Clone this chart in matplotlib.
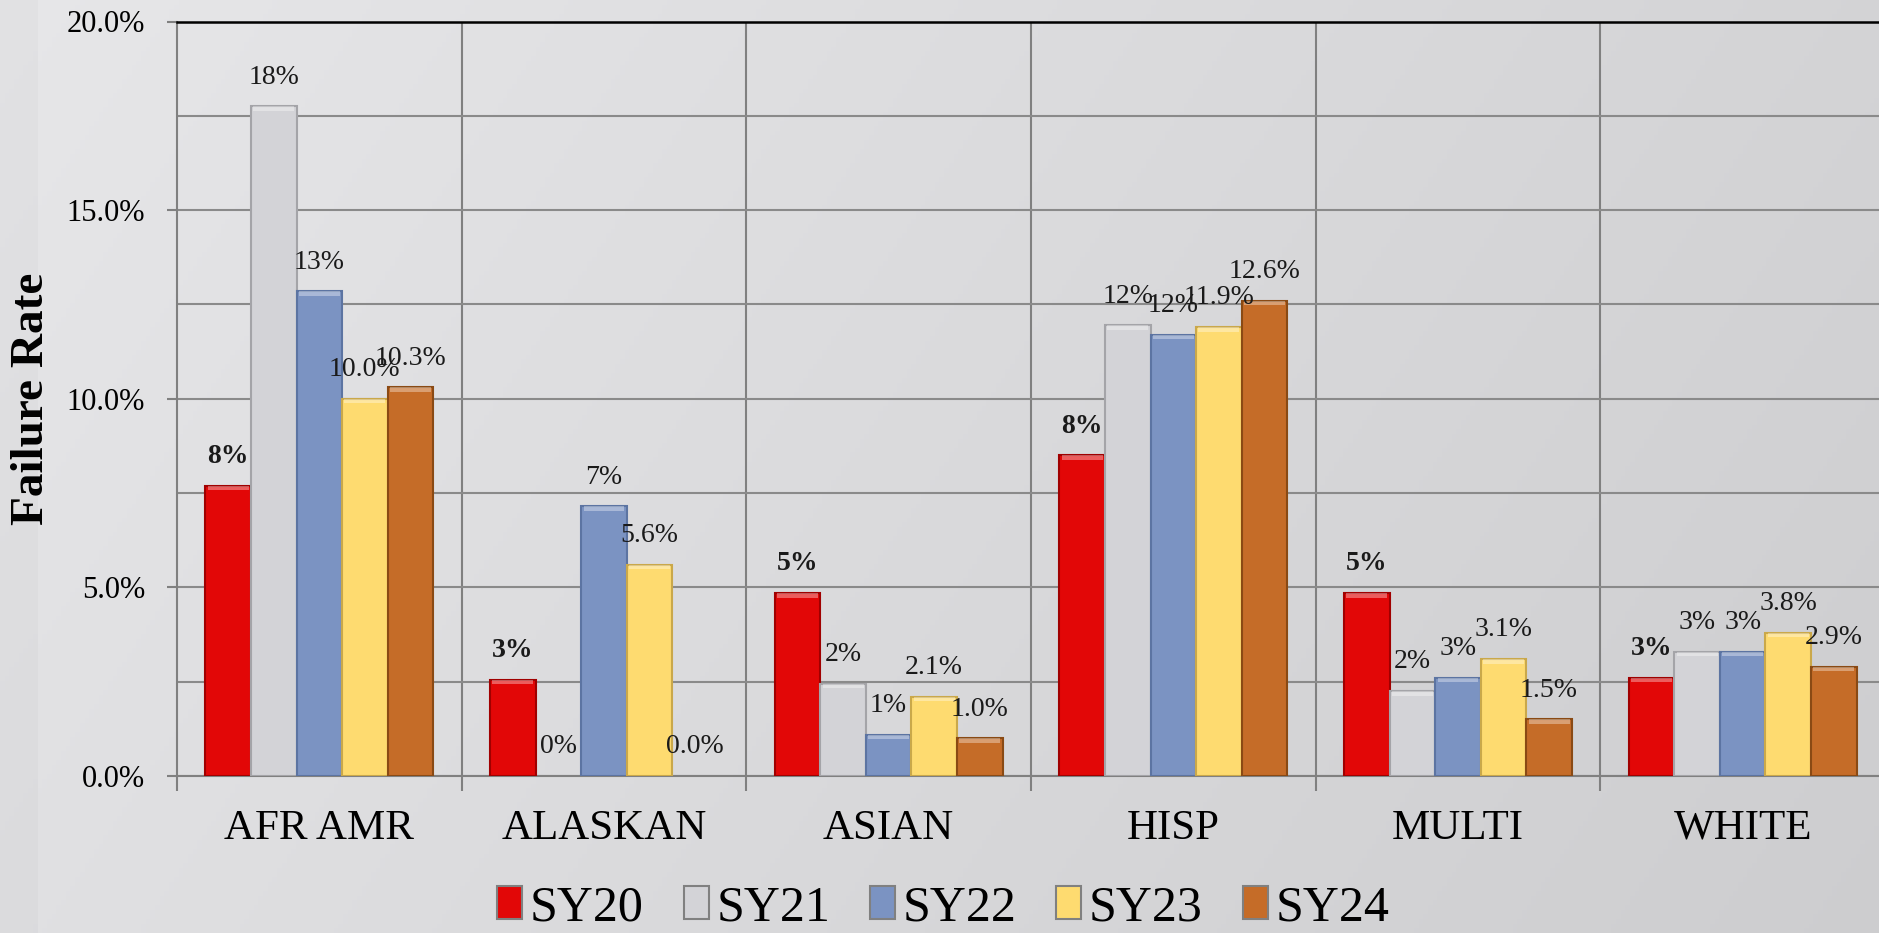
import numpy as np
import matplotlib
matplotlib.use("Agg")
import matplotlib.pyplot as plt
from matplotlib.patches import Patch

plt.rcParams['font.family'] = ['Liberation Serif', 'DejaVu Serif']

categories = ['AFR AMR', 'ALASKAN', 'ASIAN', 'HISP', 'MULTI', 'WHITE']
series = ['SY20', 'SY21', 'SY22', 'SY23', 'SY24']
sy20 = [7.7, 2.55, 4.85, 8.5, 4.85, 2.6]
sy21 = [17.75, 0.0, 2.45, 11.95, 2.25, 3.3]
sy22 = [12.85, 7.15, 1.1, 11.7, 2.6, 3.3]
sy23 = [10.0, 5.6, 2.1, 11.9, 3.1, 3.8]
sy24 = [10.3, 0.0, 1.0, 12.6, 1.5, 2.9]
values = [sy20, sy21, sy22, sy23, sy24]
label_fmt = ['{:.0f}%', '{:.0f}%', '{:.0f}%', '{:.1f}%', '{:.1f}%']
label_weight = ['bold', 'normal', 'normal', 'normal', 'normal']

face = ['#e20707', '#d3d3d7', '#7b93c2', '#fedb70', '#c56c28']
edge = ['#a00000', '#a4a4a8', '#5c74a2', '#caa84a', '#8a4a14']

fig = plt.figure(figsize=(18.79, 9.33), dpi=100)

# gradient background
bg = fig.add_axes([0, 0, 1, 1])
xx, yy = np.meshgrid(np.linspace(0, 1, 400), np.linspace(0, 1, 200))
shade = 0.905 - 0.075 * xx - 0.025 * yy
shade[:, :8] -= 0.02
bg.imshow(np.dstack([shade, shade, shade + 0.008]).clip(0, 1), aspect='auto', extent=[0, 1, 0, 1])
bg.axis('off')

ax = fig.add_axes([177 / 1879, 1 - 776 / 933, 1708 / 1879, (776 - 21.5) / 933])
ax.patch.set_alpha(0)

x = np.arange(len(categories))
w = 0.16
for i, vals in enumerate(values):
    pos = x + (i - 2) * w
    ec = [edge[i] if v > 0 else 'none' for v in vals]
    ax.bar(pos, vals, width=w, color=face[i], edgecolor=ec, linewidth=1.5, zorder=3)
    # light top highlight
    ax.bar(pos, [0.12 if v > 0 else 0 for v in vals], bottom=[v - 0.12 for v in vals],
           width=w * 0.9, color='white', alpha=0.35, linewidth=0, zorder=4)
    for px, v in zip(pos, vals):
        ax.annotate(label_fmt[i].format(v), (px, v), xytext=(0, 21), textcoords='offset points',
                    ha='center', va='center', fontsize=20, fontweight=label_weight[i],
                    color='#1a1a1a', zorder=5)

ax.set_xlim(-0.5, 5.5)
ax.set_ylim(0, 20)
ax.set_yticks([0, 5, 10, 15, 20])
ax.set_yticklabels(['{:.1f}%'.format(t) for t in [0, 5, 10, 15, 20]], fontsize=22)
ax.set_yticks(np.arange(0, 20.1, 2.5), minor=True)
ax.tick_params(axis='y', which='major', length=7, width=1.5, color='#808080', pad=16)
ax.tick_params(axis='y', which='minor', length=0)
ax.grid(axis='y', which='both', color='#8a8a8a', linewidth=1.5, zorder=1)

ax.set_xticks(x)
ax.set_xticklabels(categories, fontsize=31)
ax.set_xticks(np.arange(-0.5, 5.6, 1), minor=True)
ax.tick_params(axis='x', which='major', length=0, pad=24)
ax.tick_params(axis='x', which='minor', length=11, width=1.5, color='#808080')
for b in np.arange(0.5, 5.0, 1):
    ax.axvline(b, color='#808080', linewidth=1.5, zorder=1)

for s in ['left', 'bottom']:
    ax.spines[s].set_color('#808080')
    ax.spines[s].set_linewidth(1.5)
ax.spines['right'].set_visible(False)
ax.spines['top'].set_color('black')
ax.spines['top'].set_linewidth(1.8)

ax.set_ylabel('Failure Rate', fontsize=34, fontweight='bold', va='center')
ax.yaxis.set_label_coords(-0.085, 0.5)

handles = [Patch(facecolor=face[i], edgecolor='#808080', linewidth=1.5) for i in range(5)]
fig.legend(handles, series, loc='center', bbox_to_anchor=(0.502, 0.027), ncol=5,
           frameon=False, fontsize=36, handlelength=0.5, handleheight=0.62,
           handletextpad=0.15, columnspacing=0.8, borderpad=0.1)

fig.savefig('out.png', dpi=100)
